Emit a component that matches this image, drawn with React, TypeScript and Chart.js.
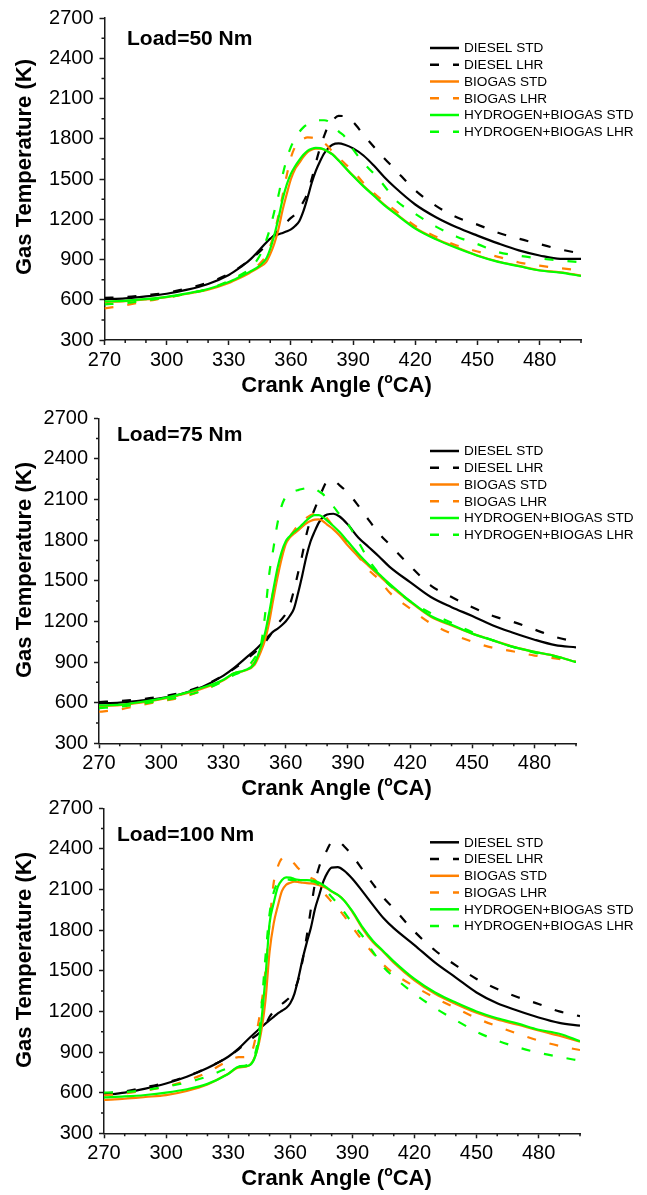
import React, { useEffect, useRef } from 'react';
import { Chart, registerables } from 'chart.js';

Chart.register(...registerables);

const FONT = '"Liberation Sans", Arial, Helvetica, sans-serif';
const AXIS_COLOR = '#1a1a1a';
const DASH = [9, 14];

// Crank angle sample positions (°CA)
const angles = [270, 280, 290, 300, 310, 320, 330, 335, 340, 345, 348, 350, 352, 354, 356, 358, 360, 362, 364, 366, 368, 370, 372, 374, 376, 378, 380, 383, 386, 390, 395, 400, 405, 410, 420, 430, 440, 450, 460, 470, 480, 490, 500];

const xMajorTicks = [270, 300, 330, 360, 390, 420, 450, 480];
const xMinorTicks = [280, 290, 310, 320, 340, 350, 370, 380, 400, 410, 430, 440, 460, 470, 490, 500];
const yMajorTicks = [300, 600, 900, 1200, 1500, 1800, 2100, 2400, 2700];
const yMinorTicks = [450, 750, 1050, 1350, 1650, 1950, 2250, 2550];

const seriesNames = ['DIESEL STD', 'DIESEL LHR', 'BIOGAS STD', 'BIOGAS LHR', 'HYDROGEN+BIOGAS STD', 'HYDROGEN+BIOGAS LHR'];
const seriesColors = ['#000000', '#000000', '#FF8000', '#FF8000', '#00FF00', '#00FF00'];
const seriesDashed = [false, true, false, true, false, true];

// Load = 50 Nm
const dieselStd50 = [605, 610, 625, 645, 675, 718, 785, 835, 895, 975, 1025, 1055, 1075, 1088, 1098, 1110, 1125, 1150, 1185, 1260, 1360, 1470, 1560, 1630, 1690, 1730, 1755, 1765, 1755, 1728, 1675, 1600, 1515, 1440, 1310, 1215, 1140, 1078, 1020, 968, 930, 905, 905];
const dieselLhr50 = [615, 620, 635, 652, 685, 728, 792, 840, 895, 960, 1010, 1050, 1082, 1120, 1150, 1180, 1210, 1236, 1280, 1330, 1395, 1500, 1620, 1730, 1820, 1895, 1935, 1970, 1968, 1925, 1830, 1740, 1655, 1575, 1415, 1300, 1215, 1160, 1100, 1055, 1015, 975, 945];
const bioStd50 = [583, 590, 603, 620, 645, 675, 725, 760, 800, 845, 880, 940, 1020, 1130, 1270, 1390, 1500, 1575, 1620, 1665, 1700, 1718, 1726, 1727, 1720, 1705, 1685, 1640, 1590, 1525, 1450, 1380, 1310, 1250, 1135, 1055, 990, 930, 885, 852, 820, 805, 780];
const bioLhr50 = [536, 558, 590, 615, 645, 680, 735, 770, 810, 870, 930, 1000, 1100, 1230, 1380, 1530, 1660, 1740, 1780, 1800, 1810, 1808, 1800, 1790, 1770, 1740, 1705, 1660, 1615, 1560, 1470, 1395, 1330, 1270, 1150, 1070, 1005, 960, 920, 878, 854, 835, 820];
const h2Std50 = [588, 592, 605, 622, 648, 680, 732, 768, 808, 855, 905, 980, 1085, 1210, 1350, 1460, 1540, 1595, 1640, 1680, 1710, 1725, 1732, 1730, 1720, 1703, 1683, 1638, 1588, 1522, 1445, 1375, 1305, 1245, 1130, 1050, 985, 928, 882, 850, 818, 802, 778];
const h2Lhr50 = [566, 575, 595, 618, 645, 680, 740, 780, 830, 930, 1040, 1137, 1260, 1380, 1530, 1650, 1740, 1800, 1850, 1885, 1908, 1922, 1932, 1938, 1938, 1930, 1905, 1855, 1815, 1720, 1620, 1540, 1450, 1350, 1240, 1145, 1070, 1015, 955, 928, 908, 892, 880];

// Load = 75 Nm
const dieselStd75 = [595, 600, 615, 633, 665, 718, 800, 855, 920, 985, 1030, 1065, 1095, 1125, 1145, 1170, 1200, 1240, 1295, 1410, 1540, 1680, 1790, 1865, 1930, 1970, 1990, 1995, 1975, 1915, 1820, 1750, 1680, 1605, 1490, 1380, 1305, 1240, 1170, 1115, 1065, 1025, 1008];
const dieselLhr75 = [605, 612, 625, 645, 675, 725, 800, 850, 905, 970, 1010, 1045, 1085, 1135, 1180, 1215, 1255, 1320, 1430, 1560, 1690, 1840, 1950, 2030, 2105, 2180, 2235, 2240, 2205, 2150, 2055, 1950, 1850, 1770, 1610, 1465, 1380, 1305, 1240, 1195, 1140, 1085, 1050];
const bioStd75 = [575, 582, 600, 625, 660, 705, 765, 815, 835, 880, 975, 1060, 1190, 1360, 1520, 1660, 1770, 1820, 1848, 1872, 1900, 1925, 1942, 1952, 1954, 1940, 1915, 1880, 1835, 1760, 1680, 1610, 1540, 1470, 1345, 1235, 1170, 1110, 1060, 1012, 975, 945, 900];
const bioLhr75 = [533, 550, 582, 610, 640, 690, 765, 815, 835, 900, 1000, 1100, 1250, 1420, 1560, 1680, 1780, 1825, 1870, 1910, 1940, 1965, 1985, 1997, 2000, 1990, 1960, 1900, 1840, 1770, 1680, 1580, 1510, 1415, 1295, 1185, 1110, 1050, 1005, 978, 948, 927, 903];
const h2Std75 = [580, 585, 605, 630, 665, 712, 770, 817, 838, 890, 1010, 1110, 1260, 1430, 1590, 1710, 1790, 1830, 1860, 1885, 1915, 1945, 1970, 1985, 1985, 1970, 1945, 1905, 1860, 1790, 1700, 1620, 1550, 1480, 1350, 1240, 1175, 1110, 1060, 1010, 975, 945, 900];
const h2Lhr75 = [560, 570, 590, 615, 645, 690, 760, 805, 840, 930, 1020, 1240, 1540, 1730, 1920, 2050, 2120, 2145, 2160, 2170, 2178, 2185, 2190, 2180, 2160, 2140, 2100, 2050, 1990, 1920, 1790, 1655, 1555, 1470, 1350, 1260, 1190, 1120, 1060, 1010, 970, 940, 900];

// Load = 100 Nm
const dieselStd100 = [583, 600, 630, 668, 718, 782, 865, 925, 1000, 1070, 1110, 1135, 1160, 1185, 1205, 1225, 1260, 1330, 1450, 1590, 1710, 1820, 1960, 2060, 2160, 2225, 2262, 2265, 2240, 2180, 2085, 1985, 1890, 1815, 1690, 1560, 1450, 1340, 1260, 1205, 1155, 1115, 1095];
const dieselLhr100 = [595, 610, 640, 675, 720, 785, 865, 920, 985, 1040, 1100, 1160, 1200, 1230, 1255, 1280, 1310, 1360, 1440, 1580, 1760, 1960, 2150, 2270, 2335, 2400, 2450, 2455, 2420, 2350, 2245, 2140, 2040, 1960, 1790, 1650, 1540, 1440, 1365, 1305, 1255, 1200, 1165];
const bioStd100 = [546, 555, 568, 582, 612, 660, 740, 785, 800, 975, 1280, 1640, 1850, 1980, 2090, 2135, 2150, 2158, 2155, 2150, 2148, 2145, 2140, 2132, 2120, 2105, 2085, 2060, 2020, 1935, 1810, 1710, 1640, 1560, 1430, 1330, 1255, 1190, 1140, 1102, 1060, 1020, 977];
const bioLhr100 = [580, 595, 615, 645, 690, 750, 835, 862, 866, 1150, 1500, 1850, 2150, 2270, 2330, 2340, 2320, 2290, 2255, 2225, 2200, 2185, 2170, 2120, 2080, 2045, 2010, 1965, 1905, 1825, 1720, 1630, 1545, 1480, 1385, 1300, 1225, 1150, 1090, 1035, 985, 945, 915];
const h2Std100 = [565, 572, 583, 600, 625, 665, 738, 790, 800, 1000, 1450, 1850, 2000, 2120, 2170, 2190, 2188, 2178, 2172, 2170, 2170, 2168, 2162, 2150, 2132, 2110, 2088, 2060, 2020, 1940, 1820, 1720, 1645, 1570, 1440, 1340, 1265, 1200, 1150, 1110, 1065, 1035, 980];
const h2Lhr100 = [600, 605, 620, 645, 675, 720, 780, 795, 810, 1050, 1600, 1920, 2080, 2150, 2170, 2175, 2172, 2170, 2168, 2166, 2162, 2160, 2155, 2135, 2110, 2080, 2045, 1995, 1935, 1850, 1755, 1640, 1530, 1455, 1330, 1225, 1135, 1050, 985, 935, 895, 864, 836];

const panels = [
  {
    load: 'Load=50 Nm',
    series: [dieselStd50, dieselLhr50, bioStd50, bioLhr50, h2Std50, h2Lhr50],
    canvasTop: 0, height: 405,
    area: { left: 104.5, right: 581, top: 15, bottom: 340 },
    loadPos: { x: 127, y: 45 },
    legendY0: 48,
    yTitleY: 167,
    xTitleY: 392,
  },
  {
    load: 'Load=75 Nm',
    series: [dieselStd75, dieselLhr75, bioStd75, bioLhr75, h2Std75, h2Lhr75],
    canvasTop: 395, height: 410,
    area: { left: 99, right: 576, top: 418.3, bottom: 743.3 },
    loadPos: { x: 117, y: 441 },
    legendY0: 451,
    yTitleY: 570,
    xTitleY: 795,
  },
  {
    load: 'Load=100 Nm',
    series: [dieselStd100, dieselLhr100, bioStd100, bioLhr100, h2Std100, h2Lhr100],
    canvasTop: 790, height: 405,
    area: { left: 104, right: 580, top: 808.3, bottom: 1133.3 },
    loadPos: { x: 117, y: 841 },
    legendY0: 842.3,
    yTitleY: 960,
    xTitleY: 1185,
  },
];

const X_AXIS_H = 30;

function makeDecor(p: any) {
  return {
    id: 'decor',
    afterDraw(chart: any) {
      const ctx = chart.ctx;
      const xs = chart.scales.x;
      const ys = chart.scales.y;
      const { left, bottom } = chart.chartArea;
      const oy = p.canvasTop;
      ctx.save();
      // minor ticks
      ctx.strokeStyle = AXIS_COLOR;
      ctx.lineWidth = 1.5;
      ctx.setLineDash([]);
      ctx.beginPath();
      xMinorTicks.forEach((v) => {
        const px = xs.getPixelForValue(v);
        ctx.moveTo(px, bottom);
        ctx.lineTo(px, bottom + 3);
      });
      yMinorTicks.forEach((v) => {
        const py = ys.getPixelForValue(v);
        ctx.moveTo(left, py);
        ctx.lineTo(left - 3, py);
      });
      ctx.stroke();

      ctx.fillStyle = '#000';
      // load label
      ctx.font = `bold 21px ${FONT}`;
      ctx.textAlign = 'left';
      ctx.textBaseline = 'alphabetic';
      ctx.fillText(p.load, p.loadPos.x, p.loadPos.y - oy);

      // legend
      ctx.font = `13.6px ${FONT}`;
      ctx.textBaseline = 'middle';
      chart.data.datasets.forEach((ds: any, i: number) => {
        const y = p.legendY0 - oy + i * 16.75;
        ctx.strokeStyle = ds.borderColor;
        ctx.lineWidth = 2.5;
        ctx.setLineDash(ds.borderDash || []);
        ctx.beginPath();
        ctx.moveTo(430, y);
        ctx.lineTo(459, y);
        ctx.stroke();
        ctx.setLineDash([]);
        ctx.fillStyle = '#000';
        ctx.fillText(ds.label, 464, y + 0.5);
      });

      // y title
      ctx.save();
      ctx.translate(25, p.yTitleY - oy);
      ctx.rotate(-Math.PI / 2);
      ctx.font = `bold 22px ${FONT}`;
      ctx.textAlign = 'center';
      ctx.textBaseline = 'middle';
      ctx.fillText('Gas Temperature (K)', 0, 0);
      ctx.restore();

      // x title with superscript o
      const a = 'Crank Angle (';
      const sup = 'o';
      const b = 'CA)';
      ctx.textBaseline = 'alphabetic';
      ctx.textAlign = 'left';
      ctx.font = `bold 22px ${FONT}`;
      const wa = ctx.measureText(a).width;
      const wb = ctx.measureText(b).width;
      ctx.font = `bold 14px ${FONT}`;
      const ws = ctx.measureText(sup).width;
      const total = wa + ws + wb;
      let x = 336.5 - total / 2;
      const by = p.xTitleY - oy;
      ctx.font = `bold 22px ${FONT}`;
      ctx.fillText(a, x, by);
      x += wa;
      ctx.font = `bold 14px ${FONT}`;
      ctx.fillText(sup, x, by - 9);
      x += ws;
      ctx.font = `bold 22px ${FONT}`;
      ctx.fillText(b, x, by);
      ctx.restore();
    },
  };
}

function Panel({ p }: { p: any }) {
  const ref = useRef<HTMLCanvasElement | null>(null);
  useEffect(() => {
    if (!ref.current) return;
    const tickFont = { family: FONT, size: 20 };
    const chart = new Chart(ref.current, {
      type: 'line',
      data: {
        datasets: p.series.map((vals: number[], i: number) => ({
          label: seriesNames[i],
          data: angles.map((a, j) => ({ x: a, y: vals[j] })),
          borderColor: seriesColors[i],
          backgroundColor: seriesColors[i],
          borderWidth: 2.2,
          borderDash: seriesDashed[i] ? DASH : [],
          pointRadius: 0,
          cubicInterpolationMode: 'monotone',
          fill: false,
          order: seriesNames.length - i,
        })),
      },
      options: {
        responsive: false,
        animation: false,
        devicePixelRatio: 1,
        layout: {
          padding: {
            left: 0,
            top: p.area.top - p.canvasTop,
            right: 647 - p.area.right,
            bottom: p.height - (p.area.bottom - p.canvasTop) - X_AXIS_H,
          },
        },
        plugins: {
          legend: { display: false },
          tooltip: { enabled: false },
          title: { display: false },
        },
        scales: {
          x: {
            type: 'linear',
            min: 270,
            max: 500,
            afterBuildTicks: (s: any) => {
              s.ticks = xMajorTicks.map((v) => ({ value: v }));
            },
            afterFit: (s: any) => {
              s.height = X_AXIS_H;
            },
            grid: {
              display: true,
              drawOnChartArea: false,
              drawTicks: true,
              tickLength: 5,
              tickWidth: 1.5,
              tickColor: AXIS_COLOR,
            },
            border: { display: true, color: AXIS_COLOR, width: 1.5 },
            ticks: {
              font: tickFont,
              color: '#000',
              padding: 3,
              maxRotation: 0,
              autoSkip: false,
              callback: (v: any) => String(v),
            },
          },
          y: {
            type: 'linear',
            min: 300,
            max: 2700,
            afterBuildTicks: (s: any) => {
              s.ticks = yMajorTicks.map((v) => ({ value: v }));
            },
            afterFit: (s: any) => {
              s.width = p.area.left;
            },
            grid: {
              display: true,
              drawOnChartArea: false,
              drawTicks: true,
              tickLength: 5,
              tickWidth: 1.5,
              tickColor: AXIS_COLOR,
            },
            border: { display: true, color: AXIS_COLOR, width: 1.5 },
            ticks: {
              font: tickFont,
              color: '#000',
              padding: 6,
              autoSkip: false,
              callback: (v: any) => String(v),
            },
          },
        },
      },
      plugins: [makeDecor(p)],
    } as any);
    return () => chart.destroy();
  }, []);
  return (
    <canvas
      ref={ref}
      width={647}
      height={p.height}
      style={{ position: 'absolute', left: 0, top: p.canvasTop, width: 647, height: p.height }}
    />
  );
}

export default function App() {
  return (
    <div style={{ position: 'absolute', left: 0, top: 0, width: 647, height: 1195, background: '#fff', overflow: 'hidden' }}>
      {panels.map((p, i) => (
        <Panel key={i} p={p} />
      ))}
    </div>
  );
}
